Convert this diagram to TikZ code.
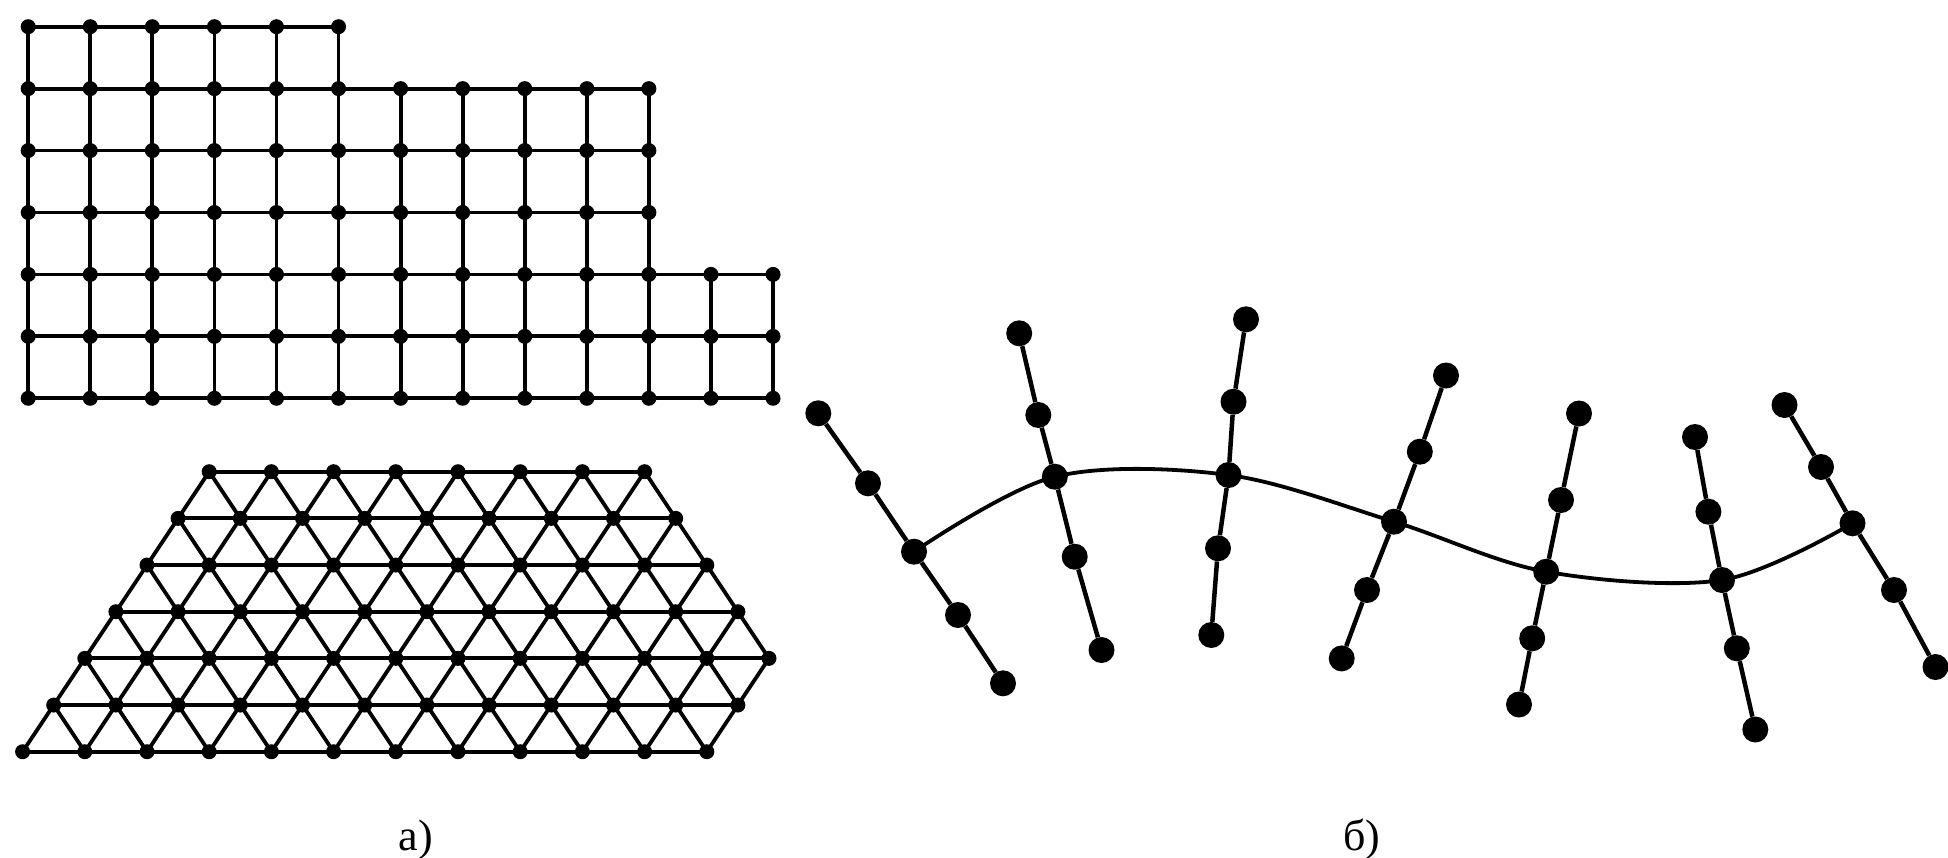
\documentclass[tikz,border=0pt]{standalone}
\usepackage{fontspec}
\setmainfont{Liberation Serif}
\begin{document}
\begin{tikzpicture}[x=1pt,y=-1pt,
  sdot/.style={circle,fill=black,inner sep=0pt,minimum size=15pt},
  bdot/.style={circle,fill=black,inner sep=0pt,minimum size=26pt},
  gline/.style={line width=3.8pt},
  cline/.style={line width=4.5pt},
  curveline/.style={line width=3.8pt},
  lbl/.style={font=\fontsize{44}{44}\selectfont,anchor=base,inner sep=0pt}]
\fill[white] (0,0) rectangle (1948,857);
\useasboundingbox (0,0) rectangle (1948,857);

% ---------- square grid ----------
\foreach \r/\m in {0/5,1/10,2/10,3/10,4/12,5/12,6/12} {
  \foreach \c in {0,...,\m} {
    \node[sdot] (s-\r-\c) at ({28.2+62.07*\c},{26.7+61.93*\r}) {};
  }
}
\foreach \r/\m in {0/5,1/10,2/10,3/10,4/12,5/12,6/12} {
  \foreach \c in {1,...,\m} {
    \pgfmathtruncatemacro\p{\c-1}
    \draw[gline] (s-\r-\p.center) -- (s-\r-\c.center);
  }
}
\foreach \r/\m in {0/5,1/10,2/10,3/10,4/12,5/12} {
  \pgfmathtruncatemacro\q{\r+1}
  \foreach \c in {0,...,\m} {
    \draw[gline] (s-\r-\c.center) -- (s-\q-\c.center);
  }
}

% ---------- triangular grid ----------
\foreach \r/\a/\b in {0/6/20,1/5/21,2/4/22,3/3/23,4/2/24,5/1/23,6/0/22} {
  \pgfmathtruncatemacro\aa{\a+2}
  \foreach \j in {\a,\aa,...,\b} {
    \node[sdot] (t-\r-\j) at ({22.6+31.1*\j},{471.7+46.67*\r}) {};
  }
}
\foreach \r/\a/\b in {0/6/20,1/5/21,2/4/22,3/3/23,4/2/24,5/1/23,6/0/22} {
  \pgfmathtruncatemacro\aa{\a+2}
  \pgfmathtruncatemacro\ab{\a+4}
  \foreach \j in {\aa,\ab,...,\b} {
    \pgfmathtruncatemacro\p{\j-2}
    \draw[gline] (t-\r-\p.center) -- (t-\r-\j.center);
  }
}
\foreach \r/\a/\b/\nb in {0/6/20/21,1/5/21/22,2/4/22/23,3/3/23/24,4/2/24/23,5/1/23/22} {
  \pgfmathtruncatemacro\q{\r+1}
  \pgfmathtruncatemacro\aa{\a+2}
  \foreach \j in {\a,\aa,...,\b} {
    \pgfmathtruncatemacro\lj{\j-1}
    \pgfmathtruncatemacro\rj{\j+1}
    \draw[gline] (t-\r-\j.center) -- (t-\q-\lj.center);
    \ifnum\j<\nb
      \draw[gline] (t-\r-\j.center) -- (t-\q-\rj.center);
    \fi
  }
}

% ---------- chains ----------
\foreach \k/\ax/\ay/\bx/\by/\jx/\jy/\cx/\cy/\dx/\dy in {
  1/818.3/413.3/868/483.3/914/551.7/958/615/1003/683.3,
  2/1019.2/333.3/1038.3/415/1054.8/476.7/1074.7/556.7/1101.5/650,
  3/1246/319.3/1233.5/401.7/1228.5/475/1218/548.3/1211.3/635,
  4/1446/375.5/1419.8/451.7/1394/521.7/1367/590/1341.7/658.4,
  5/1579/413.5/1561/500/1546.2/571.7/1532.2/638.3/1519/704.5,
  6/1695/437/1708.4/511.7/1722/580/1736.8/648.3/1755.3/729.5,
  7/1784.5/405/1821/467/1852.5/523.3/1894/590/1935.5/667} {
  \node[bdot] (A\k) at (\ax,\ay) {};
  \node[bdot] (B\k) at (\bx,\by) {};
  \node[bdot] (J\k) at (\jx,\jy) {};
  \node[bdot] (C\k) at (\cx,\cy) {};
  \node[bdot] (D\k) at (\dx,\dy) {};
  \draw[cline] (A\k) -- (B\k) -- (J\k) -- (C\k) -- (D\k);
}
\draw[curveline] plot[smooth,tension=0.55] coordinates {(J1.center) (J2.center) (J3.center) (J4.center) (J5.center) (J6.center) (J7.center)};

% ---------- labels ----------
\node[lbl] (la) at (416,850) {а)};
\node[lbl] (lb) at (1362,850) {б)};
\end{tikzpicture}
\end{document}
